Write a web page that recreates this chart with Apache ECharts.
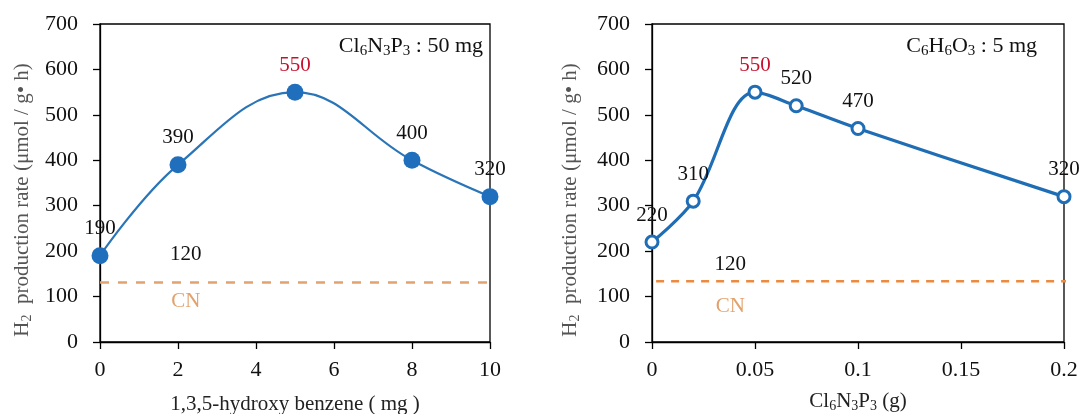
<!DOCTYPE html>
<html>
<head>
<meta charset="utf-8">
<script src="https://cdn.jsdelivr.net/npm/echarts@6/dist/echarts.min.js"></script>
<style>
html,body{margin:0;padding:0;background:#fff;}
#c{width:1082px;height:414px;}
</style>
</head>
<body>
<div id="c"></div>
<script>
// ---- data ----
const leftX = [0, 2, 5, 8, 10];
const leftY = [190, 390, 550, 400, 320];
const rightX = [0, 0.02, 0.05, 0.07, 0.1, 0.2];
const rightY = [220, 310, 550, 520, 470, 320];
const cnLeft = 131;
const cnRight = 134;
const cnLabelLeft = [[2.2, 192, '120'], [2.2, 89, 'CN']];
const cnLabelRight = [[0.038, 170, '120'], [0.038, 78, 'CN']];
const highlightValue = 550;

const FF = 'Liberation Serif';
const blueL = '#1f6fbd';
const blueR = '#1f6db5';

function yAxis(gi, gap) {
  return {
    gridIndex: gi, type: 'value', min: 0, max: 700, interval: 100,
    axisLine: {show: true, lineStyle: {color: '#000', width: 1.3}},
    axisTick: {show: true, inside: false, length: 7, lineStyle: {color: '#000', width: 1.3}},
    axisLabel: {color: '#111', fontFamily: FF, fontSize: 22, margin: 22},
    splitLine: {show: false},
    name: '{a|H}{s|2}{a|  production rate (μmol / g• h)}',
    nameLocation: 'middle', nameRotate: 90, nameGap: gap,
    nameTextStyle: {
      padding: [0, 34, 0, 0],
      rich: {
        a: {fontFamily: FF, fontSize: 21, color: '#555'},
        s: {fontFamily: FF, fontSize: 14, color: '#555', padding: [10, 0, 0, 0]}
      }
    }
  };
}

function labelColor(v) { return v === highlightValue ? '#c8102e' : '#111'; }

const pts = (xs, ys) => xs.map((x, i) => ({
  value: [x, ys[i]],
  label: {color: labelColor(ys[i])}
}));

const annotRich = {
  a: {fontFamily: FF, fontSize: 22, color: '#111', fontWeight: 'normal'},
  s: {fontFamily: FF, fontSize: 15, color: '#111', fontWeight: 'normal', padding: [10, 0, 0, 0]}
};

const chart = echarts.init(document.getElementById('c'));
chart.setOption({
  animation: false,
  backgroundColor: '#fff',
  grid: [
    {left: 100, right: 592, top: 24, bottom: 72, show: true, borderColor: '#000', borderWidth: 1.3,
     outerBoundsMode: 'none', containLabel: false},
    {left: 652, right: 18, top: 24, bottom: 72, show: true, borderColor: '#000', borderWidth: 1.3,
     outerBoundsMode: 'none', containLabel: false}
  ],
  title: [
    {
      text: '{a|Cl}{s|6}{a|N}{s|3}{a|P}{s|3}{a| : 50 mg}',
      right: 594, top: 29,
      textStyle: {fontWeight: 'normal', rich: annotRich}
    },
    {
      text: '{a|C}{s|6}{a|H}{s|6}{a|O}{s|3}{a| : 5 mg}',
      right: 40, top: 29,
      textStyle: {fontWeight: 'normal', rich: annotRich}
    }
  ],
  xAxis: [
    {
      gridIndex: 0, type: 'value', min: 0, max: 10, interval: 2,
      axisLine: {show: true, onZero: false, lineStyle: {color: '#000', width: 1.3}},
      axisTick: {show: true, length: 7, lineStyle: {color: '#000', width: 1.3}},
      axisLabel: {color: '#111', fontFamily: FF, fontSize: 22, margin: 17},
      splitLine: {show: false},
      name: '1,3,5-hydroxy benzene ( mg )', nameLocation: 'middle', nameGap: 52,
      nameTextStyle: {fontFamily: FF, fontSize: 21, color: '#222'}
    },
    {
      gridIndex: 1, type: 'value', min: 0, max: 0.2, interval: 0.05,
      axisLine: {show: true, onZero: false, lineStyle: {color: '#000', width: 1.3}},
      axisTick: {show: true, length: 7, lineStyle: {color: '#000', width: 1.3}},
      axisLabel: {color: '#111', fontFamily: FF, fontSize: 22, margin: 17},
      splitLine: {show: false},
      name: '{a|Cl}{s|6}{a|N}{s|3}{a|P}{s|3}{a| (g)}', nameLocation: 'middle', nameGap: 47,
      nameTextStyle: {rich: {
        a: {fontFamily: FF, fontSize: 21, color: '#222'},
        s: {fontFamily: FF, fontSize: 14, color: '#222', padding: [10, 0, 0, 0]}
      }}
    }
  ],
  yAxis: [yAxis(0, 66), yAxis(1, 70)],
  series: [
    {
      type: 'line', xAxisIndex: 0, yAxisIndex: 0,
      data: [[0, cnLeft], [10, cnLeft]],
      symbol: 'none', silent: true, z: 1,
      lineStyle: {color: '#e2a26e', width: 2.5, type: [9, 9]}
    },
    {
      type: 'line', xAxisIndex: 1, yAxisIndex: 1,
      data: [[0.002, cnRight], [0.207, cnRight]],
      symbol: 'none', silent: true, clip: false, z: 1,
      lineStyle: {color: '#ec8a40', width: 2.5, type: [8, 7]}
    },
    {
      type: 'line', xAxisIndex: 0, yAxisIndex: 0,
      data: pts(leftX, leftY), smooth: 0.4,
      symbol: 'circle', symbolSize: 17,
      itemStyle: {color: blueL},
      lineStyle: {color: '#2a74b8', width: 2.2},
      label: {show: true, position: 'top', distance: 8, fontFamily: FF, fontSize: 21},
      clip: false, z: 3
    },
    {
      type: 'line', xAxisIndex: 1, yAxisIndex: 1,
      data: pts(rightX, rightY), smooth: 0.35,
      symbol: 'circle', symbolSize: 12,
      itemStyle: {color: '#fff', borderColor: blueR, borderWidth: 3},
      lineStyle: {color: blueR, width: 3.2},
      label: {show: true, position: 'top', distance: 9, fontFamily: FF, fontSize: 21},
      clip: false, z: 3
    },
    {
      type: 'scatter', xAxisIndex: 0, yAxisIndex: 0,
      data: cnLabelLeft.map(d => ({value: [d[0], d[1]], name: d[2],
        label: {color: d[2] === 'CN' ? '#e2a26e' : '#111'}})),
      symbolSize: 0, silent: true, itemStyle: {opacity: 1},
      label: {show: true, position: 'inside', formatter: p => p.name, fontFamily: FF, fontSize: 21}
    },
    {
      type: 'scatter', xAxisIndex: 1, yAxisIndex: 1,
      data: cnLabelRight.map(d => ({value: [d[0], d[1]], name: d[2],
        label: {color: d[2] === 'CN' ? '#e2a26e' : '#111'}})),
      symbolSize: 0, silent: true, itemStyle: {opacity: 1},
      label: {show: true, position: 'inside', formatter: p => p.name, fontFamily: FF, fontSize: 21}
    }
  ]
});
</script>
</body>
</html>
